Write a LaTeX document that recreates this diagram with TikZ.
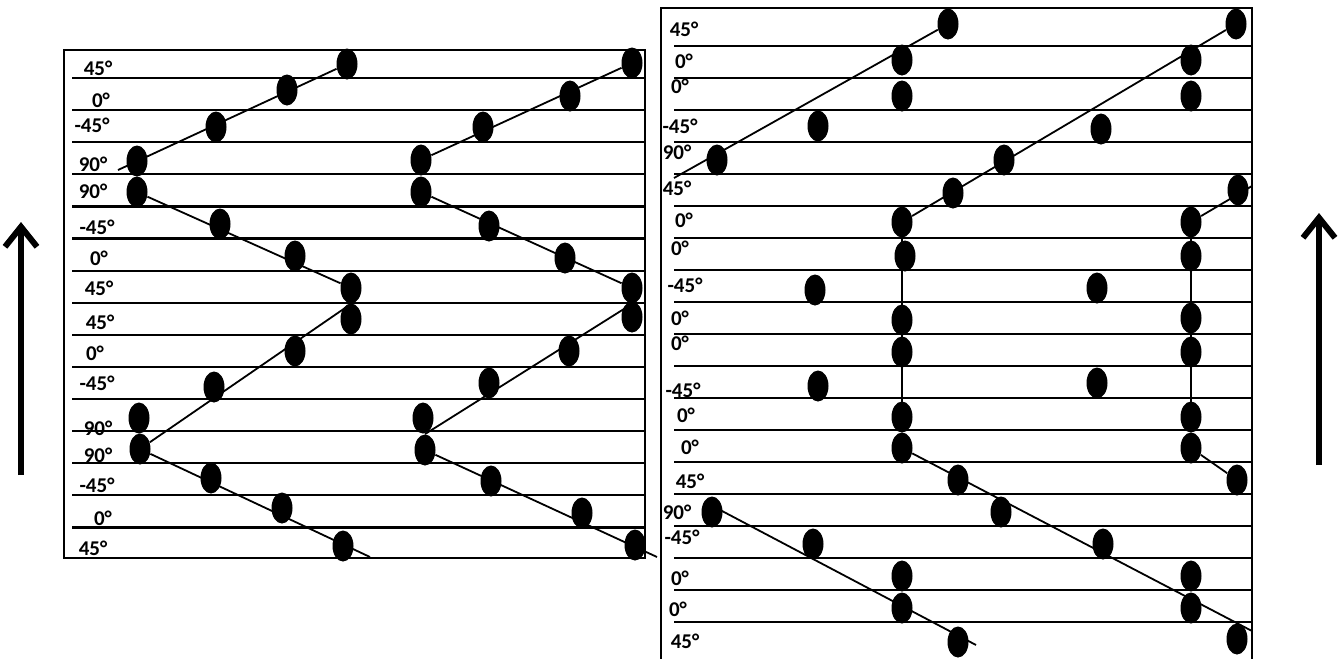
\documentclass[tikz,border=0pt]{standalone}
\usepackage{fontspec}
\setmainfont{Carlito}[BoldFont={Carlito Bold}]
\usepackage{tikz}
\usetikzlibrary{arrows.meta, shapes.geometric}

\begin{document}
\begin{tikzpicture}[
  x=0.5pt, y=-0.5pt,
  ply/.style={ellipse, fill=black, minimum width=10.5pt, minimum height=15.5pt, inner sep=0pt},
  deg/.style={font=\fontsize{10.5}{12}\selectfont\bfseries, inner sep=0pt},
  rule/.style={line width=1.1pt},
  fibre/.style={line width=0.9pt},
  up/.style={line width=3pt, -{Straight Barb[length=10pt, width=16pt]}}
]
  \useasboundingbox (0,0) rectangle (1340,659);

  % frames and ply boundaries
  \draw[rule] (64,50) rectangle (645,558);
  \draw[rule] (661,665) -- (661,8) -- (1252,8) -- (1252,665);
  \foreach \k in {0,...,14}
    \draw[rule] (72,{78+32.1*\k}) -- (645,{78+32.1*\k});
  \foreach \k in {0,...,18}
    \draw[rule] (674,{46+32*\k}) -- (1252,{46+32*\k});

  % left stack, first column
  \node[ply] (lA1)  at (347,64)  {};
  \node[ply] (lA2)  at (287,90)  {};
  \node[ply] (lA3)  at (216,127) {};
  \node[ply] (lA4)  at (137,161) {};
  \node[ply] (lA5)  at (137,192) {};
  \node[ply] (lA6)  at (220,224) {};
  \node[ply] (lA7)  at (295,256) {};
  \node[ply] (lA8)  at (351,288) {};
  \node[ply] (lA9)  at (351,319) {};
  \node[ply] (lA10) at (295,351) {};
  \node[ply] (lA11) at (214,387) {};
  \node[ply] (lA12) at (139,418) {};
  \node[ply] (lA13) at (140,449) {};
  \node[ply] (lA14) at (211,478) {};
  \node[ply] (lA15) at (282,508) {};
  \node[ply] (lA16) at (343,546) {};

  % left stack, second column
  \node[ply] (lB1)  at (632,63)  {};
  \node[ply] (lB2)  at (570,96)  {};
  \node[ply] (lB3)  at (483,127) {};
  \node[ply] (lB4)  at (421,160) {};
  \node[ply] (lB5)  at (421,192) {};
  \node[ply] (lB6)  at (489,226) {};
  \node[ply] (lB7)  at (565,258) {};
  \node[ply] (lB8)  at (632,288) {};
  \node[ply] (lB9)  at (632,317) {};
  \node[ply] (lB10) at (569,351) {};
  \node[ply] (lB11) at (489,383) {};
  \node[ply] (lB12) at (423,418) {};
  \node[ply] (lB13) at (425,450) {};
  \node[ply] (lB14) at (491,481) {};
  \node[ply] (lB15) at (582,513) {};
  \node[ply] (lB16) at (635,545) {};

  % right stack, first column
  \node[ply] (rA1)  at (948,24)  {};
  \node[ply] (rA2)  at (902,60)  {};
  \node[ply] (rA3)  at (902,96)  {};
  \node[ply] (rA4)  at (818,126) {};
  \node[ply] (rA5)  at (717,160) {};
  \node[ply] (rA6)  at (953,193) {};
  \node[ply] (rA7)  at (902,222) {};
  \node[ply] (rA8)  at (905,256) {};
  \node[ply] (rA9)  at (815,290) {};
  \node[ply] (rA10) at (902,320) {};
  \node[ply] (rA11) at (902,352) {};
  \node[ply] (rA12) at (818,386) {};
  \node[ply] (rA13) at (902,417) {};
  \node[ply] (rA14) at (902,448) {};
  \node[ply] (rA15) at (958,480) {};
  \node[ply] (rA16) at (712,512) {};
  \node[ply] (rA17) at (813,544) {};
  \node[ply] (rA18) at (902,576) {};
  \node[ply] (rA19) at (902,608) {};
  \node[ply] (rA20) at (958,642) {};

  % right stack, second column
  \node[ply] (rB1)  at (1236,24)  {};
  \node[ply] (rB2)  at (1191,60)  {};
  \node[ply] (rB3)  at (1191,96)  {};
  \node[ply] (rB4)  at (1101,129) {};
  \node[ply] (rB5)  at (1004,160) {};
  \node[ply] (rB6)  at (1238,190) {};
  \node[ply] (rB7)  at (1191,222) {};
  \node[ply] (rB8)  at (1191,256) {};
  \node[ply] (rB9)  at (1097,288) {};
  \node[ply] (rB10) at (1191,318) {};
  \node[ply] (rB11) at (1191,352) {};
  \node[ply] (rB12) at (1097,383) {};
  \node[ply] (rB13) at (1191,417) {};
  \node[ply] (rB14) at (1191,448) {};
  \node[ply] (rB15) at (1237,480) {};
  \node[ply] (rB16) at (1001,512) {};
  \node[ply] (rB17) at (1103,544) {};
  \node[ply] (rB18) at (1191,576) {};
  \node[ply] (rB19) at (1191,608) {};
  \node[ply] (rB20) at (1237,639) {};

  % free ends of the fibre paths
  \coordinate (lAin)  at (118,170);
  \coordinate (lAout) at (370,557);
  \coordinate (lBout) at (657,557);
  \coordinate (rAin)  at (674,178);
  \coordinate (rLin)  at (705,502);
  \coordinate (rLout) at (976,645);
  \coordinate (rBtop) at (1252,186);
  \coordinate (rBbot) at (1252,631);

  \draw[fibre] (lAin) -- (lA1);
  \draw[fibre] (lA5) -- (lA8);
  \draw[fibre] (lA8.south) -- (lA13);
  \draw[fibre] (lA13) -- (lAout);
  \draw[fibre] (lB4) -- (lB1);
  \draw[fibre] (lB5) -- (lB8);
  \draw[fibre] (lB8.south) -- (lB13.north);
  \draw[fibre] (lB13) -- (lBout);

  \draw[fibre] (rAin) -- (rA1);
  \draw[fibre] (rA7) -- (rB1);
  \draw[fibre] (rB7) -- (rBtop);
  \draw[fibre] (rA7) -- (rA14);
  \draw[fibre] (rB7) -- (rB14);
  \draw[fibre] (rA14) -- (rBbot);
  \draw[fibre] (rB14) -- (rB15);
  \draw[fibre] (rLin) -- (rLout);

  % ply angles, left stack
  \node[deg] (lt1)  at (98,68)  {45°};
  \node[deg] (lt2)  at (101,100) {0°};
  \node[deg] (lt3)  at (92,125) {-45°};
  \node[deg] (lt4)  at (93,164) {90°};
  \node[deg] (lt5)  at (93,191) {90°};
  \node[deg] (lt6)  at (97,227) {-45°};
  \node[deg] (lt7)  at (99,258) {0°};
  \node[deg] (lt8)  at (99,288) {45°};
  \node[deg] (lt9)  at (100,322) {45°};
  \node[deg] (lt10) at (95,353) {0°};
  \node[deg] (lt11) at (97,383) {-45°};
  \node[deg] (lt12) at (98,428) {90°};
  \node[deg] (lt13) at (98,455) {90°};
  \node[deg] (lt14) at (97,485) {-45°};
  \node[deg] (lt15) at (103,518) {0°};
  \node[deg] (lt16) at (93,548) {45°};

  % ply angles, right stack
  \node[deg] (rt1)  at (684,29)  {45°};
  \node[deg] (rt2)  at (684,61)  {0°};
  \node[deg] (rt3)  at (680,86)  {0°};
  \node[deg] (rt4)  at (680,126) {-45°};
  \node[deg] (rt5)  at (677,152) {90°};
  \node[deg] (rt6)  at (677,188) {45°};
  \node[deg] (rt7)  at (684,220) {0°};
  \node[deg] (rt8)  at (680,248) {0°};
  \node[deg] (rt9)  at (685,285) {-45°};
  \node[deg] (rt10) at (680,318) {0°};
  \node[deg] (rt11) at (680,343) {0°};
  \node[deg] (rt12) at (683,390) {-45°};
  \node[deg] (rt13) at (686,415) {0°};
  \node[deg] (rt14) at (690,447) {0°};
  \node[deg] (rt15) at (690,481) {45°};
  \node[deg] (rt16) at (677,512) {90°};
  \node[deg] (rt17) at (682,537) {-45°};
  \node[deg] (rt18) at (680,578) {0°};
  \node[deg] (rt19) at (678,609) {0°};
  \node[deg] (rt20) at (685,641) {45°};

  % stacking direction
  \coordinate (upL0) at (21,475);
  \coordinate (upL1) at (21,222);
  \coordinate (upR0) at (1319,465);
  \coordinate (upR1) at (1319,213);
  \draw[up] (upL0) -- (upL1);
  \draw[up] (upR0) -- (upR1);
\end{tikzpicture}
\end{document}
